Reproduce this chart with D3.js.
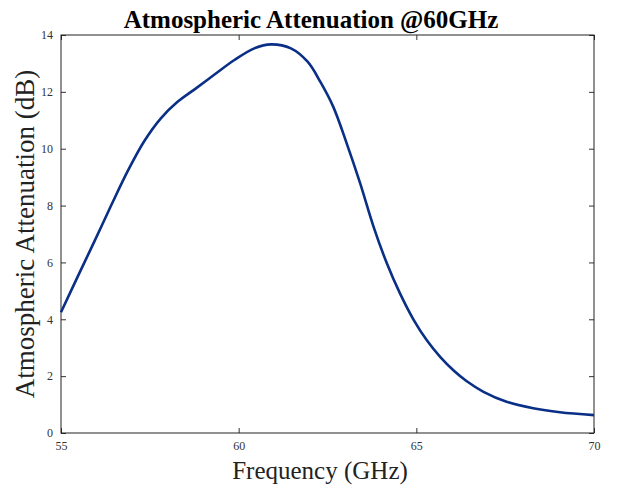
<!DOCTYPE html>
<html>
<head>
  <meta charset="utf-8">
  <script src="https://d3js.org/d3.v7.min.js"></script>
  <style type="text/css">
    body { margin: 0; background: #fff; }
    .tick text { font-family: "Liberation Serif", "Times New Roman", serif; font-size: 12px; fill: #333; }
    .tick line { stroke: #333; }
  </style>
</head>
<body>
  <script type="text/javascript">
    // values
    var freq = [55.0, 55.47, 55.94, 56.41, 56.88, 57.35, 57.81, 58.28, 58.75, 59.31, 59.88,
                60.44, 60.91, 61.47, 61.94, 62.3, 62.66, 63.04, 63.42, 63.79, 64.17, 64.54,
                64.92, 65.29, 65.67, 66.05, 66.42, 66.89, 67.54, 68.29, 69.04, 70.0];
    var atten = [4.25, 5.5, 6.74, 8.0, 9.22, 10.28, 11.07, 11.65, 12.08, 12.6, 13.12,
                 13.53, 13.67, 13.53, 13.06, 12.35, 11.48, 10.19, 8.78, 7.28, 5.97, 4.91,
                 3.99, 3.27, 2.68, 2.2, 1.82, 1.45, 1.1, 0.87, 0.73, 0.63];
    var xTicks = [55, 60, 65, 70];
    var yTicks = [0, 2, 4, 6, 8, 10, 12, 14];

    var W = 617, H = 486;
    var m = {left: 61, right: 23, top: 35, bottom: 53};

    var svg = d3.select("body").append("svg")
        .attr("width", W)
        .attr("height", H);

    var x = d3.scaleLinear().domain([55, 70]).range([m.left, W - m.right]);
    var y = d3.scaleLinear().domain([0, 14]).range([H - m.bottom, m.top]);

    // axes, ticks pointing inward
    svg.append("g")
        .attr("transform", "translate(0," + (H - m.bottom) + ")")
        .call(d3.axisBottom(x).tickValues(xTicks).tickSizeInner(-5).tickSizeOuter(0).tickPadding(8))
        .call(function (g) { g.select(".domain").remove(); });
    svg.append("g")
        .attr("transform", "translate(0," + m.top + ")")
        .call(d3.axisTop(x).tickValues(xTicks).tickSizeInner(-5).tickSizeOuter(0).tickFormat(""))
        .call(function (g) { g.select(".domain").remove(); });
    svg.append("g")
        .attr("transform", "translate(" + m.left + ",0)")
        .call(d3.axisLeft(y).tickValues(yTicks).tickSizeInner(-5).tickSizeOuter(0).tickPadding(8))
        .call(function (g) { g.select(".domain").remove(); });
    svg.append("g")
        .attr("transform", "translate(" + (W - m.right) + ",0)")
        .call(d3.axisRight(y).tickValues(yTicks).tickSizeInner(-5).tickSizeOuter(0).tickFormat(""))
        .call(function (g) { g.select(".domain").remove(); });

    svg.append("rect")
        .attr("x", m.left)
        .attr("y", m.top)
        .attr("width", W - m.left - m.right)
        .attr("height", H - m.top - m.bottom)
        .attr("fill", "none")
        .attr("stroke", "#222")
        .attr("stroke-width", 1);

    var pts = freq.map(function (f, i) { return [f, atten[i]]; });
    var line = d3.line()
        .x(function (d) { return x(d[0]); })
        .y(function (d) { return y(d[1]); })
        .curve(d3.curveCatmullRom.alpha(0.5));

    svg.append("path")
        .datum(pts)
        .attr("d", line)
        .attr("fill", "none")
        .attr("stroke", "#0a2f86")
        .attr("stroke-width", 2.6);

    svg.append("text")
        .attr("x", 311)
        .attr("y", 28)
        .attr("text-anchor", "middle")
        .style("font-family", "Liberation Serif, serif")
        .style("font-weight", "bold")
        .style("font-size", "25px")
        .text("Atmospheric Attenuation @60GHz");

    svg.append("text")
        .attr("x", 320)
        .attr("y", 479)
        .attr("text-anchor", "middle")
        .style("font-family", "Liberation Serif, serif")
        .style("font-size", "25px")
        .style("fill", "#222")
        .text("Frequency (GHz)");

    svg.append("text")
        .attr("transform", "translate(34,234) rotate(-90)")
        .attr("text-anchor", "middle")
        .style("font-family", "Liberation Serif, serif")
        .style("font-size", "27px")
        .style("fill", "#222")
        .text("Atmospheric Attenuation (dB)");
  </script>
</body>
</html>
